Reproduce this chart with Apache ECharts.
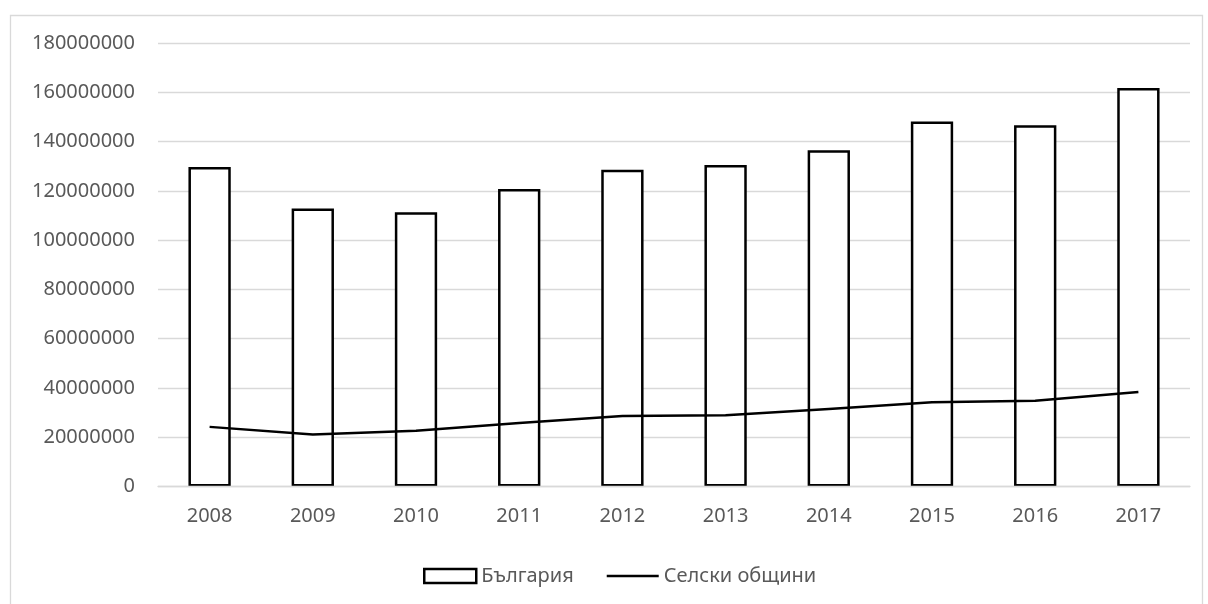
<!DOCTYPE html>
<html>
<head>
<meta charset="utf-8">
<script src="https://cdn.jsdelivr.net/npm/echarts@6/dist/echarts.min.js"></script>
<style>
  html, body { margin: 0; padding: 0; background: #ffffff; }
  #chart { width: 1208px; height: 604px; }
</style>
</head>
<body>
<div id="chart"></div>
<script>
// Years on the category axis
const years = ['2008', '2009', '2010', '2011', '2012', '2013', '2014', '2015', '2016', '2017'];

// България (bars)
const bulgaria = [129700000, 112800000, 111300000, 120700000, 128600000, 130500000, 136500000, 148100000, 146600000, 161700000];

// Селски общини (line)
const ruralMunicipalities = [24200000, 21100000, 22600000, 25800000, 28600000, 28900000, 31500000, 34200000, 34800000, 38400000];

// Value axis range
const yMin = 0;
const yMax = 180000000;
const yStep = 20000000;

const FONT = '"Noto Sans", "Open Sans", sans-serif';
const TEXT = '#595959';
const GRID = '#d9d9d9';

const chart = echarts.init(document.getElementById('chart'), null, { renderer: 'canvas' });

chart.setOption({
  backgroundColor: '#ffffff',
  animation: false,
  graphic: [{
    type: 'rect',
    left: 8, top: 13,
    shape: { width: 1192, height: 600 },
    style: { fill: 'none', stroke: '#d9d9d9', lineWidth: 1.3 },
    silent: true
  }],
  grid: { left: 158, right: 18, top: 43, bottom: 117.5, containLabel: false },
  legend: {
    left: 418,
    top: 561,
    itemWidth: 52,
    itemHeight: 14,
    itemGap: 33,
    textStyle: { fontFamily: FONT, fontSize: 20, color: TEXT },
    data: [
      { name: 'България', icon: 'rect', itemStyle: { color: '#ffffff', borderColor: '#000000', borderWidth: 2.5 } },
      // plain horizontal stroke as the line key
      { name: 'Селски общини', icon: 'path://M0,0H52V2.5H0Z',
        itemStyle: { color: '#000000', borderWidth: 0 } }
    ]
  },
  xAxis: {
    type: 'category',
    data: years,
    z: 5,
    axisLine: { lineStyle: { color: GRID, width: 1.3 } },
    axisTick: { show: false },
    axisLabel: { fontFamily: FONT, fontSize: 20, color: TEXT, margin: 20 }
  },
  yAxis: {
    type: 'value',
    min: yMin,
    max: yMax,
    interval: yStep,
    axisLine: { show: false },
    axisTick: { show: false },
    splitLine: { lineStyle: { color: GRID, width: 1.3 } },
    axisLabel: {
      fontFamily: FONT, fontSize: 20, color: TEXT, margin: 23,
      formatter: (v) => String(v)
    }
  },
  series: [
    {
      name: 'България',
      type: 'bar',
      data: bulgaria,
      barWidth: '41%',
      itemStyle: { color: '#ffffff', borderColor: '#000000', borderWidth: 2.5 }
    },
    {
      name: 'Селски общини',
      type: 'line',
      data: ruralMunicipalities,
      symbol: 'none',
      lineStyle: { color: '#000000', width: 2.5 },
      itemStyle: { color: '#000000' },
      z: 4
    }
  ]
});
</script>
</body>
</html>
